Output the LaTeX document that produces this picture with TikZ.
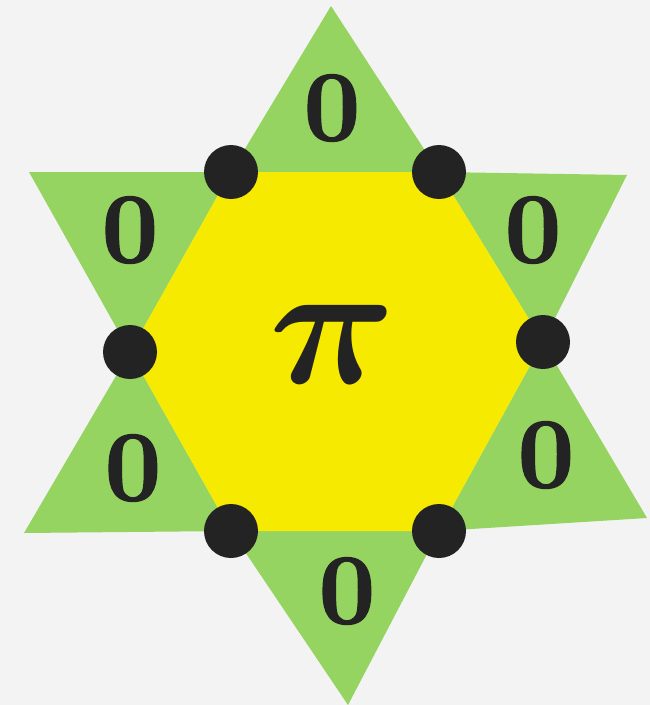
\RequirePackage{fix-cm}
\documentclass[tikz,border=0pt]{standalone}
\usepackage{fontspec}
\newfontfamily\zerofont{Latin Modern Roman}[BoldFeatures={FakeBold=1.6}]
\definecolor{paper}{RGB}{243,243,243}
\definecolor{leaf}{RGB}{150,212,97}
\definecolor{lemon}{RGB}{246,234,0}
\definecolor{ink}{RGB}{35,35,35}

\begin{document}
\begin{tikzpicture}[x=1pt, y=-1pt,
    wedge/.style={fill=leaf},
    hexa/.style={fill=lemon},
    dot/.style={circle, fill=ink, minimum size=54pt, inner sep=0pt},
    digit/.style={text=ink, inner sep=0pt, font=\fontsize{100}{100}\selectfont\zerofont\bfseries},
    bigpi/.style={text=ink, inner sep=0pt, font=\fontsize{176}{176}\selectfont\boldmath}
]

% background and page size
\fill[paper] (0,0) rectangle (650,705);
\useasboundingbox (0,0) rectangle (650,705);

% hexagon corners
\coordinate (hA) at (231,172);
\coordinate (hB) at (439,172);
\coordinate (hC) at (543,342);
\coordinate (hD) at (439,531);
\coordinate (hE) at (231,531);
\coordinate (hF) at (130,352);

% star tips
\coordinate (tN) at (331,6);
\coordinate (tNE) at (627,175);
\coordinate (tSE) at (647,518);
\coordinate (tS) at (348,705);
\coordinate (tSW) at (24,533);
\coordinate (tNW) at (29,172);

% green points of the star
\fill[wedge] (hA) -- (tN) -- (hB) -- cycle;
\fill[wedge] (hB) -- (tNE) -- (hC) -- cycle;
\fill[wedge] (hC) -- (tSE) -- (hD) -- cycle;
\fill[wedge] (hD) -- (tS) -- (hE) -- cycle;
\fill[wedge] (hE) -- (tSW) -- (hF) -- cycle;
\fill[wedge] (hF) -- (tNW) -- (hA) -- cycle;

% yellow centre
\fill[hexa] (hA) -- (hB) -- (hC) -- (hD) -- (hE) -- (hF) -- cycle;

% corner dots
\node[dot] (dA) at (hA) {};
\node[dot] (dB) at (hB) {};
\node[dot] (dC) at (hC) {};
\node[dot] (dD) at (hD) {};
\node[dot] (dE) at (hE) {};
\node[dot] (dF) at (hF) {};

% labels
\node[digit] (zN) at (332,108) {0};
\node[digit] (zNE) at (533,230) {0};
\node[digit] (zSE) at (546,455) {0};
\node[digit] (zS) at (347,591) {0};
\node[digit] (zSW) at (133,468) {0};
\node[digit] (zNW) at (130,230) {0};
\node[bigpi] (mid) at (333,344) {$\pi$};

\end{tikzpicture}
\end{document}
